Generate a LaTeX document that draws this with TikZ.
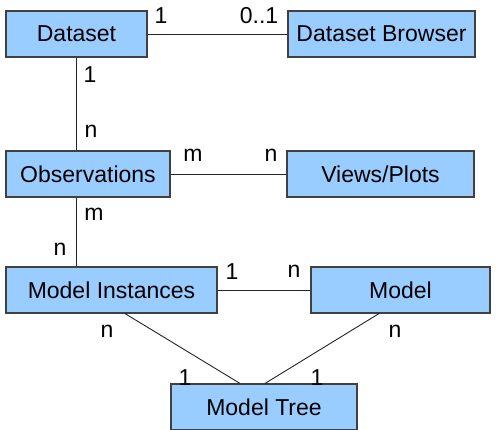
\documentclass[tikz,border=0pt]{standalone}
\usepackage{fontspec}
\setmainfont{Liberation Sans}
\begin{document}
\begin{tikzpicture}[x=1pt, y=-1pt,
  entity/.style={draw=black!75, line width=1.1pt, fill=boxblue, minimum height=46pt,
    inner sep=0pt, font=\fontsize{23}{27}\selectfont},
  link/.style={draw=black!85, line width=0.9pt},
  mult/.style={inner sep=0pt, font=\fontsize{23}{27}\selectfont}]
\definecolor{boxblue}{RGB}{153,204,255}
\useasboundingbox (0,0) rectangle (496,429);
\fill[white] (0,0) rectangle (496,429);

% entities
\node[entity, minimum width=141pt] (ds)  at (76.5,34)  {Dataset};
\node[entity, minimum width=187pt] (dsb) at (381.5,34) {Dataset Browser};
\node[entity, minimum width=164pt] (obs) at (88,174)   {Observations};
\node[entity, minimum width=187pt] (vp)  at (380.5,174) {Views/Plots};
\node[entity, minimum width=211pt] (mi)  at (111.5,290) {Model Instances};
\node[entity, minimum width=179pt] (mod) at (400.5,290) {Model};
\node[entity, minimum width=186pt] (mt)  at (264,407)  {Model Tree};

% relationships
\draw[link] (ds.east) -- (dsb.west);
\draw[link] (ds.south) -- (ds.south |- obs.north);
\draw[link] (obs.east) -- (vp.west);
\draw[link] (ds.south |- obs.south) -- (ds.south |- mi.north);
\draw[link] (mi.east) -- (mod.west);
\draw[link] ([xshift=13.5pt]mi.south) -- ([xshift=-24pt]mt.north);
\draw[link] ([xshift=-21.5pt]mod.south) -- ([xshift=1pt]mt.north);

% multiplicities
\node[mult] (m1)  at (161,16)  {1};
\node[mult] (m2)  at (259,16)  {0..1};
\node[mult] (m3)  at (90,75)   {1};
\node[mult] (m4)  at (91,131)  {n};
\node[mult] (m5)  at (193,155) {m};
\node[mult] (m6)  at (271,155) {n};
\node[mult] (m7)  at (94,214)  {m};
\node[mult] (m8)  at (60,249)  {n};
\node[mult] (m9)  at (232,272) {1};
\node[mult] (m10) at (294,271) {n};
\node[mult] (m11) at (107,331) {n};
\node[mult] (m12) at (395,331) {n};
\node[mult] (m13) at (185,378) {1};
\node[mult] (m14) at (317,378) {1};
\end{tikzpicture}
\end{document}
